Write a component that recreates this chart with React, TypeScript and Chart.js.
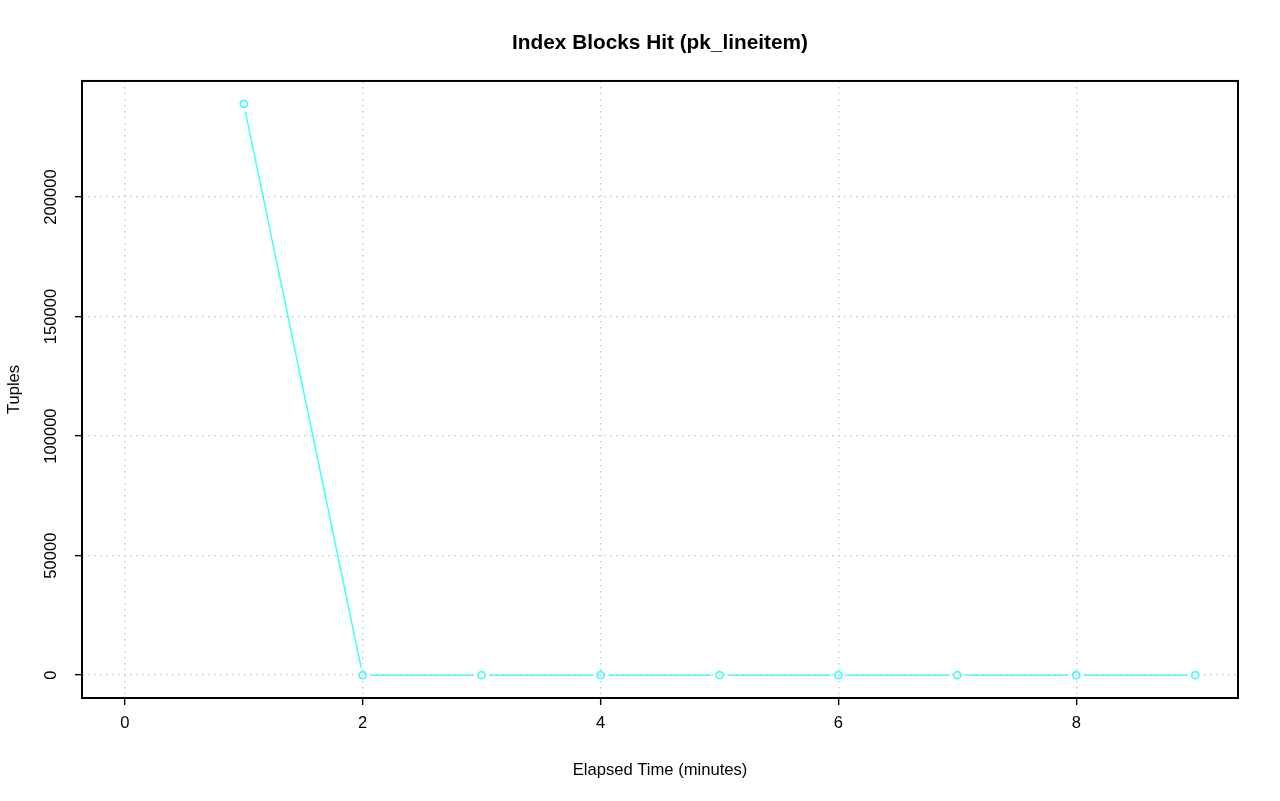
import React, { useEffect, useRef } from "react";
import { Chart, registerables } from "chart.js";

Chart.register(...registerables);

const elapsedMinutes = [1, 2, 3, 4, 5, 6, 7, 8, 9];
const tuples = [239000, 0, 0, 0, 0, 0, 0, 0, 0];
const xTicks = [0, 2, 4, 6, 8];
const yTicks = [0, 50000, 100000, 150000, 200000];
const titleText = "Index Blocks Hit (pk_lineitem)";
const xTitle = "Elapsed Time (minutes)";
const yTitle = "Tuples";

const FONT = "'Liberation Sans', Arial, Helvetica, sans-serif";
const CYAN = "#3FFFFF";

const boxPlugin = {
  id: "box",
  afterDraw(chart: any) {
    const { ctx, chartArea } = chart;
    ctx.save();
    ctx.strokeStyle = "#000";
    ctx.lineWidth = 2;
    ctx.strokeRect(chartArea.left, chartArea.top, chartArea.right - chartArea.left, chartArea.bottom - chartArea.top);
    ctx.restore();
  },
};

export default function App() {
  const ref = useRef<HTMLCanvasElement>(null);
  useEffect(() => {
    const pts = elapsedMinutes.map((x, i) => ({ x, y: tuples[i] }));
    const gridCommon = {
      color: "#C4C4C4",
      lineWidth: 1.3,
      drawTicks: true,
      tickLength: 7,
      tickColor: "#000",
      tickWidth: 1.4,
      tickBorderDash: [],
      z: 1,
    };
    const borderCommon = { display: false, dash: [1.5, 4.5] };
    const chart = new Chart(ref.current!, {
      type: "scatter",
      data: {
        datasets: [
          {
            data: pts,
            showLine: false,
            pointRadius: 3.5,
            pointBorderWidth: 1.7,
            pointBorderColor: CYAN,
            pointBackgroundColor: "rgba(0,0,0,0)",
          },
          {
            data: pts,
            showLine: false,
            pointRadius: 8,
            pointBorderWidth: 0,
            pointBorderColor: "#fff",
            pointBackgroundColor: "#fff",
          },
          {
            data: pts,
            showLine: true,
            borderColor: CYAN,
            borderWidth: 1.5,
            pointRadius: 0,
          },
        ] as any,
      },
      options: {
        animation: false,
        responsive: false,
        devicePixelRatio: 1,
        events: [],
        layout: { padding: { left: 0, right: 42, top: 0, bottom: 0 } },
        plugins: {
          legend: { display: false },
          tooltip: { enabled: false },
          title: {
            display: true,
            text: titleText,
            fullSize: false,
            color: "#000",
            font: { family: FONT, size: 20.8, weight: "bold", lineHeight: 1.2 },
            padding: { top: 31, bottom: 25 },
          },
        },
        scales: {
          x: {
            type: "linear",
            min: -0.36,
            max: 9.36,
            afterBuildTicks: (s: any) => {
              s.ticks = xTicks.map((v) => ({ value: v }));
            },
            afterFit: (s: any) => {
              s.height = 103;
            },
            border: borderCommon,
            grid: gridCommon as any,
            ticks: {
              color: "#000",
              font: { family: FONT, size: 16.6 },
              padding: 8.5,
              maxRotation: 0,
              callback: (v: any) => String(v),
            },
            title: {
              display: true,
              text: xTitle,
              color: "#000",
              font: { family: FONT, size: 16.6, lineHeight: 1.2 },
              padding: { top: 0, bottom: 21 },
            },
          },
          y: {
            type: "linear",
            min: -9560,
            max: 248560,
            afterBuildTicks: (s: any) => {
              s.ticks = yTicks.map((v) => ({ value: v }));
            },
            afterFit: (s: any) => {
              s.width = 82;
            },
            border: borderCommon,
            grid: gridCommon as any,
            ticks: {
              color: "#000",
              font: { family: FONT, size: 16.6 },
              padding: -4,
              minRotation: 90,
              maxRotation: 90,
              crossAlign: "center",
              callback: (v: any) => String(v),
            },
            title: {
              display: true,
              text: yTitle,
              color: "#000",
              font: { family: FONT, size: 16.6, lineHeight: 1.2 },
              padding: { top: 4.5, bottom: 0 },
            },
          },
        },
      } as any,
      plugins: [boxPlugin],
    });
    return () => chart.destroy();
  }, []);
  return (
    <div style={{ position: "fixed", left: 0, top: 0, width: 1280, height: 801, background: "#fff" }}>
      <canvas ref={ref} width={1280} height={801} style={{ display: "block", width: 1280, height: 801 }} />
    </div>
  );
}
